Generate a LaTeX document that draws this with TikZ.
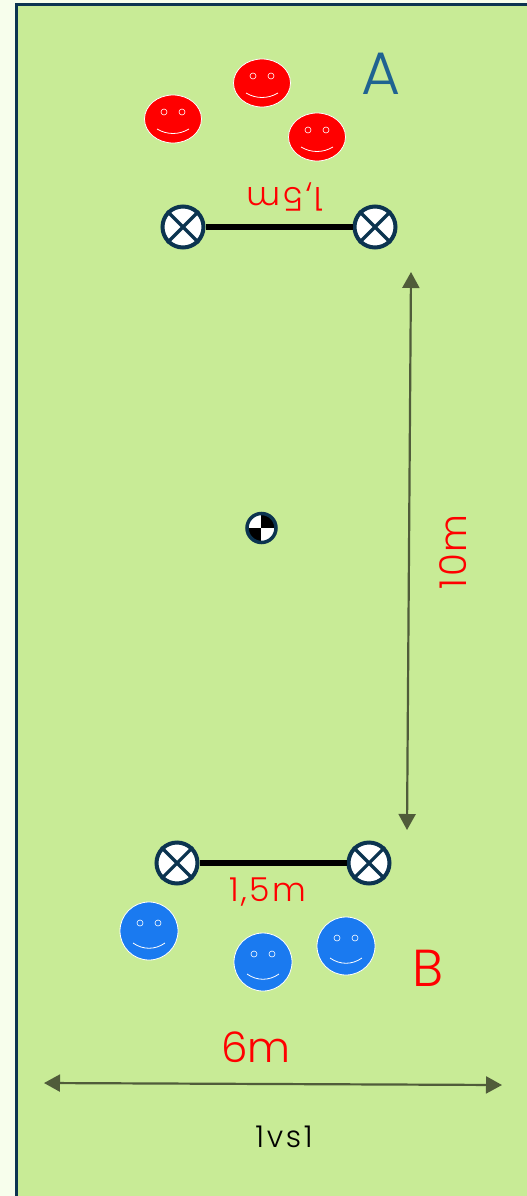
\documentclass[tikz,border=0pt]{standalone}
\usepackage{fontspec}
\setmainfont{Poppins}[UprightFont=* Light]
\usetikzlibrary{arrows.meta,shapes.geometric}
\definecolor{pitch}{HTML}{C8EB96}
\definecolor{strip}{HTML}{F7FEEC}
\definecolor{navy}{HTML}{0C3450}
\definecolor{teamblue}{HTML}{1A7AF0}
\definecolor{arrowgreen}{HTML}{505C3A}
\definecolor{letterblue}{HTML}{1F6391}
\tikzset{
  face/.style={ellipse,draw=white,line width=0.8pt,inner sep=0pt},
  cone/.style={circle,draw=navy,fill=white,line width=4pt,inner sep=0pt,minimum size=41pt},
  dist/.style={line width=2.2pt,color=arrowgreen,{Triangle[length=16pt,width=17pt]}-{Triangle[length=16pt,width=17pt]}},
  redtext/.style={text=red,inner sep=0pt}
}
\begin{document}
\begin{tikzpicture}[x=1pt,y=-1pt]
 \clip (0,0) rectangle (527,1196);
 \fill[strip] (0,0) rectangle (527,1196);
 \draw[navy,fill=pitch,line width=3pt] (16.5,5) rectangle (560,1240);
 % players
 \foreach \nm/\x/\y in {ra/173/119,rb/262/83,rc/317/137} {
   \node[face,fill=red,minimum width=57pt,minimum height=48pt] (\nm) at (\x,\y) {};
   \draw[white,line width=0.6pt] (\x-9,\y-7) circle (3pt) (\x+9,\y-7) circle (3pt);
   \draw[white,line width=0.8pt] (\x-16,\y+10) .. controls (\x-6,\y+16) and (\x+6,\y+16) .. (\x+16,\y+10);
 }
 \foreach \nm/\x/\y in {ba/149/931,bb/263/962,bc/346/946} {
   \node[face,fill=teamblue,minimum width=58pt,minimum height=58pt] (\nm) at (\x,\y) {};
   \draw[white,line width=0.6pt] (\x-9,\y-8) circle (3pt) (\x+9,\y-8) circle (3pt);
   \draw[white,line width=0.8pt] (\x-16,\y+12) .. controls (\x-6,\y+19) and (\x+6,\y+19) .. (\x+16,\y+12);
 }
 % goals
 \foreach \nm/\x/\y in {ga/183/227,gb/375/227,gc/177/863,gd/369/863} {
   \node[cone] (\nm) at (\x,\y) {};
   \draw[navy,line width=3.2pt] (\nm.45)--(\nm.225) (\nm.135)--(\nm.315);
 }
 \draw[line width=6pt] (ga)--(gb);
 \draw[line width=6pt] (gc)--(gd);
 % ball
 \node[circle,draw=navy,line width=3.5pt,fill=white,minimum size=29pt,inner sep=0pt,
   path picture={
     \fill[black] (path picture bounding box.center) ++(-1,0) rectangle ++(14,-14);
     \fill[black] (path picture bounding box.center) ++(-1,0) rectangle ++(-14,14);
   }] (ball) at (261.5,528) {};
 % distances
 \coordinate (ta) at (411,272);
 \coordinate (tb) at (407,830);
 \coordinate (la) at (44,1083);
 \coordinate (lb) at (502,1085);
 \draw[dist] (ta)--(tb);
 \draw[dist] (la)--(lb);
 % labels
 \node[text=letterblue,font=\fontsize{60}{60}\selectfont,inner sep=0pt] (lA) at (381,74) {A};
 \node[redtext,font=\fontsize{52}{52}\selectfont] (lB) at (428,968) {B};
 \node[redtext,font=\fontsize{42}{42}\selectfont] (lsix) at (256,1047) {6m};
 \node[redtext,font=\fontsize{37}{37}\selectfont\addfontfeature{LetterSpace=4},rotate=90] (lten) at (453,552) {10m};
 \node[redtext,font=\fontsize{33}{33}\selectfont\addfontfeature{LetterSpace=7},rotate=180] (lwa) at (285,197) {1,5m};
 \node[redtext,font=\fontsize{33}{33}\selectfont\addfontfeature{LetterSpace=7}] (lwb) at (268,892) {1,5m};
 \node[inner sep=0pt,font=\fontsize{30}{30}\selectfont\addfontfeature{LetterSpace=9}] (lvs) at (284,1137) {1vs1};
\end{tikzpicture}
\end{document}
